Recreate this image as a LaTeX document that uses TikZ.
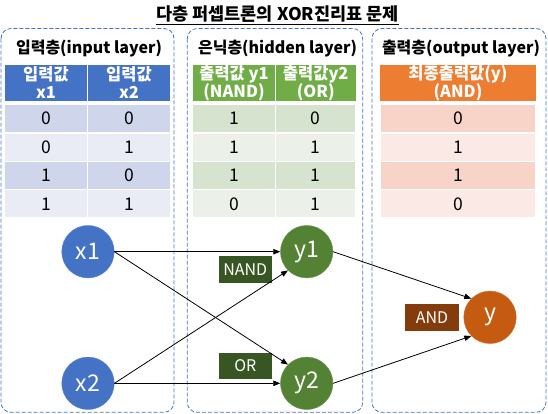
\documentclass[tikz,border=0pt]{standalone}
\usepackage{fontspec}
\setmainfont{Noto Sans CJK KR}
\usetikzlibrary{arrows.meta}
\definecolor{blueH}{HTML}{4472C4}
\definecolor{blueone}{HTML}{CFD5EA}
\definecolor{bluetwo}{HTML}{E9EBF5}
\definecolor{greenH}{HTML}{70AD47}
\definecolor{greenone}{HTML}{D5E3CF}
\definecolor{greentwo}{HTML}{EBF1E9}
\definecolor{orgH}{HTML}{ED7D31}
\definecolor{orgone}{HTML}{F8D3C7}
\definecolor{orgtwo}{HTML}{FBE9E5}
\definecolor{nodeblue}{HTML}{4472C4}
\definecolor{nodegreen}{HTML}{548235}
\definecolor{nodeorg}{HTML}{C55A11}
\definecolor{lblgreen}{HTML}{375623}
\definecolor{lblbrown}{HTML}{843C0C}
\tikzset{
  layerbox/.style={draw=blueH, dashed, dash pattern=on 4pt off 2pt, line width=0.8pt, rounded corners=10pt},
  layertitle/.style={font=\fontsize{16}{18}\selectfont\bfseries, text=black, inner sep=0},
  hcell/.style={inner sep=0, text=white, align=center, minimum height=36pt, font=\fontsize{16.5}{18}\selectfont\bfseries},
  dcell/.style={draw=white, line width=1.5pt, inner sep=0, minimum height=28.4pt, font=\fontsize{17.5}{18}\selectfont, text=black},
  neuron/.style={circle, minimum size=52.5pt, inner sep=0, text=white, font=\fontsize{23}{24}\selectfont},
  gate/.style={inner sep=0, minimum height=26.7pt, text=white, font=\fontsize{16}{17}\selectfont},
  arr/.style={-{Triangle[length=7pt,width=5.5pt]}, line width=0.8pt, black}
}
\begin{document}
\begin{tikzpicture}[x=1pt,y=-1pt]
\useasboundingbox (0,0) rectangle (548,413);
% title
\node[font=\fontsize{17.5}{19}\selectfont\bfseries, inner sep=0] (title) at (277.5,15) {\underline{다층 퍼셉트론의 XOR진리표 문제}};
% layer boxes
\draw[layerbox] (1,28.5) rectangle (174,412.3);
\draw[layerbox] (187.3,28.5) rectangle (362.7,412.3);
\draw[layerbox] (372,28.5) rectangle (546,412.3);
\node[layertitle] (t1) at (89,48.5) {입력층(input layer)};
\node[layertitle] (t2) at (277.5,48.5) {은닉층(hidden layer)};
\node[layertitle] (t3) at (461,48.5) {출력층(output layer)};
% headers
\node[hcell, fill=blueH, minimum width=82pt] (h1a) at (46,83) {입력값\\x1};
\node[hcell, fill=blueH, minimum width=82pt] (h1b) at (129,83) {입력값\\x2};
\node[hcell, fill=greenH, minimum width=82pt] (h2a) at (234,83) {출력값 y1\\(NAND)};
\node[hcell, fill=greenH, minimum width=79.5pt] (h2b) at (315.75,83) {출력값y2\\(OR)};
\node[hcell, fill=orgH, minimum width=156pt] (h3) at (458,83) {최종출력값(y)\\(AND)};
% data rows
\foreach \i/\a/\b/\c/\d/\e/\s in {0/0/0/1/0/0/one, 1/0/1/1/1/1/two, 2/1/0/1/1/1/one, 3/1/1/0/1/0/two} {
  \pgfmathsetmacro\cy{118.7+28.4*\i}
  \node[dcell, fill=blue\s, minimum width=83pt] (r1a\i) at (46,\cy) {\a};
  \node[dcell, fill=blue\s, minimum width=83pt] (r1b\i) at (129,\cy) {\b};
  \node[dcell, fill=green\s, minimum width=83pt] (r2a\i) at (234,\cy) {\c};
  \node[dcell, fill=green\s, minimum width=80.5pt] (r2b\i) at (315.75,\cy) {\d};
  \node[dcell, fill=org\s, minimum width=156pt] (r3\i) at (458,\cy) {\e};
}
% network
\node[neuron, fill=nodeblue, draw=nodeblue!85!white] (x1) at (88,251.7) {x1};
\node[neuron, fill=nodeblue, draw=nodeblue!85!white] (x2) at (88,383.3) {x2};
\node[neuron, fill=nodegreen, draw=nodegreen!85!white] (y1) at (306.7,251.7) {y1};
\node[neuron, fill=nodegreen, draw=nodegreen!85!white] (y2) at (306.7,383.3) {y2};
\node[neuron, fill=nodeorg, draw=nodeorg!85!white] (y) at (490,317.3) {y};
\node[gate, fill=lblgreen, minimum width=52.7pt] (nand) at (245.3,269.3) {NAND};
\node[gate, fill=lblgreen, minimum width=52.7pt] (or) at (245.3,366) {OR};
\node[gate, fill=lblbrown, minimum width=54pt] (and) at (432,317.3) {AND};
\draw[arr] (x1.east) -- (y1.west);
\draw[arr] (x1.east) -- (y2.north west);
\draw[arr] (x2.east) -- (y1.south west);
\draw[arr] (x2.east) -- (y2.west);
\draw[arr] (y1.east) -- (y.north west);
\draw[arr] (y2.east) -- (y.south west);
\end{tikzpicture}
\end{document}
